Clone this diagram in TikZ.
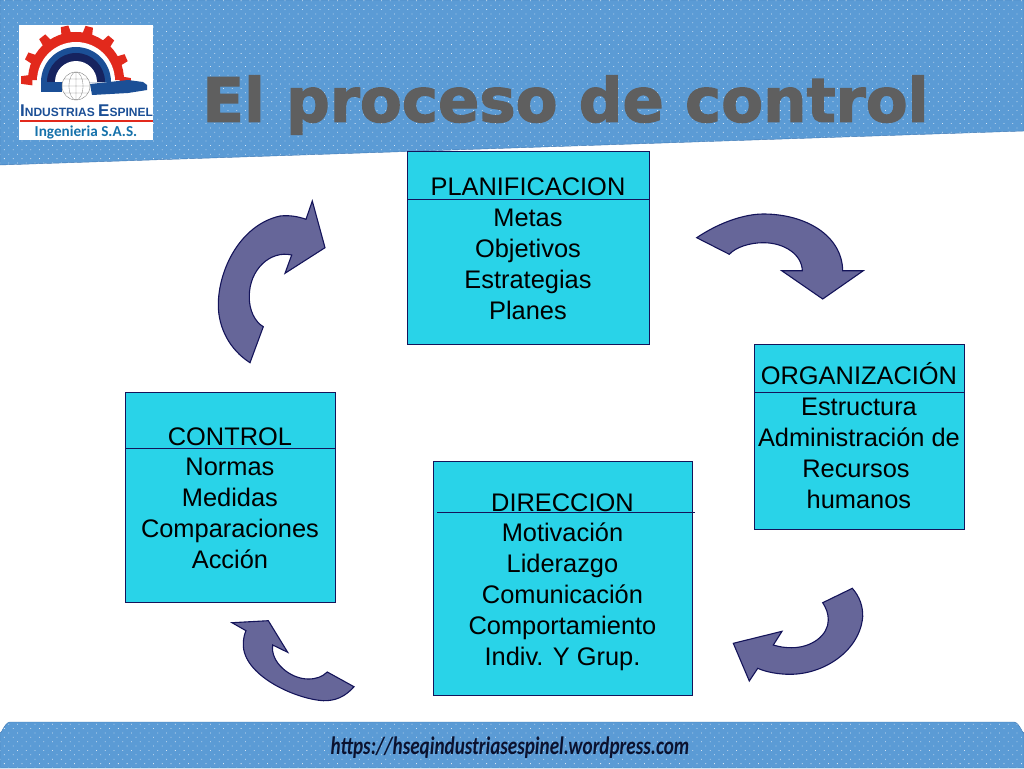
\documentclass[tikz,border=0pt]{standalone}
\usepackage{fontspec}
\setmainfont{Liberation Sans}
\newfontfamily\titlefont[BoldFeatures={FakeBold=2}]{DejaVu Sans}
\newfontfamily\urlfont[FakeStretch=0.76]{Carlito}
\newfontfamily\subfont{Carlito}
\usetikzlibrary{calc,patterns.meta}
\definecolor{bandblue}{HTML}{5B9BD5}
\definecolor{bandedge}{HTML}{3F78B4}
\definecolor{boxcyan}{HTML}{29D3E8}
\definecolor{navyline}{HTML}{14145A}
\definecolor{turnfill}{HTML}{666699}
\definecolor{titlegray}{HTML}{5F5F5F}
\definecolor{logored}{HTML}{E2291C}
\definecolor{logoblue}{HTML}{1B4F96}
\definecolor{logodark}{HTML}{16235F}
\tikzset{
  band/.style={draw=bandedge, fill=bandblue, postaction={pattern={Dots[distance=6.2pt,radius=.55pt,angle=45]}, pattern color=white!75!bandblue}},
  box/.style={draw=navyline, fill=boxcyan, anchor=north west, align=center, inner sep=0pt, font=\fontsize{25.4}{30.9}\selectfont},
  rule/.style={draw=navyline, line width=.9pt},
  turn/.style={draw=navyline, fill=turnfill, line width=1.1pt, line join=miter}
}
\begin{document}
\begin{tikzpicture}[x=1pt,y=-1pt]
  \useasboundingbox (0,0) rectangle (1024,768);
  \fill[white] (0,0) rectangle (1024,768);

  % bands
  \path[band] (0,0) -- (1024,0) -- (1024,131) -- (0,165) -- cycle;
  \path[band] (0,768) -- (0,732) to[out=-90,in=180] (10,722) -- (1014,722) to[out=0,in=-90] (1024,732) -- (1024,768) -- cycle;
  \node[text=titlegray, font=\titlefont\bfseries\fontsize{61}{61}\selectfont] (title) at (565.5,105) {El proceso de control};
  \node[text=logodark!50!black, font=\urlfont\bfseries\itshape\fontsize{25.2}{30}\selectfont] (url) at (510,748) {https://hseqindustriasespinel.wordpress.com};

  % logo
  \fill[white] (19,25) rectangle (153,140);
  \foreach \a in {0,26,...,182}
    \fill[logored, shift={(76,80)}] (\a-7:-44) -- (\a-4:-55) -- (\a+4:-55) -- (\a+7:-44) -- cycle;
  \fill[logored] (28,80) arc[start angle=180,end angle=360,radius=48] -- cycle;
  \fill[white] (37,81) arc[start angle=180,end angle=360,radius=39] -- cycle;
  \fill[logoblue] (41,82) arc[start angle=180,end angle=360,radius=35] -- cycle;
  \fill[logodark] (47,82) arc[start angle=180,end angle=360,radius=29] -- cycle;
  \fill[white] (55,82) arc[start angle=180,end angle=360,radius=21] -- cycle;
  \fill[logoblue] (41,82) rectangle (62,92);
  \fill[logoblue] (90,84) -- (128,80) -- (143,82) -- (147,85) -- (147,90) -- (128,93) -- (92,95) -- cycle;
  \filldraw[draw=gray, fill=white, line width=.4pt] (76,86) circle[radius=14];
  \draw[gray, line width=.3pt] (62,86) -- (90,86) (76,72) -- (76,100) (76,86) ellipse[x radius=7,y radius=14] (64,79) -- (88,79) (64,93) -- (88,93);
  \node[text=logoblue, inner sep=0pt, font=\bfseries\fontsize{12}{12}\selectfont] (logoname) at (86.5,111) {{\fontsize{17}{17}\selectfont I}NDUSTRIAS {\fontsize{17}{17}\selectfont E}SPINEL};
  \fill[logored] (20,120) rectangle (153,122);
  \node[text=logoblue!80!cyan, inner sep=0pt, font=\subfont\bfseries\fontsize{15.2}{15}\selectfont] (logosub) at (86,132.5) {Ingenieria S.A.S.};

  % boxes
  \node[box, minimum width=241.5pt, minimum height=192.5pt] (plan) at (407,151) {\rule{0pt}{20pt}PLANIFICACION\\ Metas\\ Objetivos\\ Estrategias\\ Planes};
  \node[box, minimum width=209.5pt, minimum height=184.5pt] (org) at (754,344) {ORGANIZACIÓN\\ Estructura\\ Administración de\\ Recursos\hspace*{6pt}\mbox{}\\ humanos\rule[-2pt]{0pt}{1pt}};
  \node[box, minimum width=209.5pt, minimum height=209.5pt] (ctrl) at (125,392) {\rule{0pt}{20pt}CONTROL\\ Normas\\ Medidas\\ Comparaciones\\ Acción};
  \node[box, minimum width=258.5pt, minimum height=233.5pt] (dir) at (433,461) {\rule{0pt}{26pt}DIRECCION\\ Motivación\\ Liderazgo\\ Comunicación\\ Comportamiento\\ Indiv. Y Grup.};

  \draw[rule] ($(plan.north west)+(0,48)$) -- ($(plan.north east)+(0,48)$);
  \draw[rule] ($(org.north west)+(0,48)$) -- ($(org.north east)+(0,48)$);
  \draw[rule] ($(ctrl.north west)+(0,56)$) -- ($(ctrl.north east)+(0,56)$);
  \draw[rule] ($(dir.north west)+(4,51)$) -- ($(dir.north east)+(3,51)$);

  % curved arrows
  \path[turn] (250,362.7) .. controls (230,350) and (218.3,328) .. (218.3,305) .. controls (218.3,270) and (240,225) .. (280,216) .. controls (290,215) and (298,216.5) .. (306,219.3)
    -- (312.3,201) -- (325,247.7) -- (285,273.3) -- (291.7,255) .. controls (270,250) and (249,270) .. (249.3,296.7) .. controls (249,310) and (255,322) .. (263.3,326.7) -- cycle;
  \path[turn] (696.7,237.7) .. controls (720,222) and (745,214) .. (763.3,214) .. controls (805,214) and (842,235) .. (842.7,270.7)
    -- (863.3,270.7) -- (822.7,299) -- (781.7,270.7) -- (802.3,270.7) .. controls (802,255) and (785,242.7) .. (763.3,242.7) .. controls (750,242.7) and (736,247) .. (729.3,254.3) -- cycle;
  \path[turn] (852.3,588.3) .. controls (860,597) and (863,607) .. (862.7,616.7) .. controls (860,650) and (825,674.3) .. (790,674.3) .. controls (778,674.3) and (766,672) .. (757.7,668.3)
    -- (749.3,681) -- (733.3,643.3) -- (782,631.3) -- (773.3,645) .. controls (780,647) and (785,647.7) .. (791.7,647.7) .. controls (812,647.7) and (828.3,635) .. (828.3,620) .. controls (828.3,613) and (826,608) .. (822.7,602.7) -- cycle;
  \path[turn] (354,686.7) .. controls (345,697) and (335,701) .. (323.3,700.7) .. controls (295,699) and (242,675) .. (243.3,643.3) .. controls (243.5,638) and (244.5,634) .. (246,630.7)
    -- (232,622.7) -- (268.3,620.7) -- (287.7,652.3) -- (272.7,645) .. controls (270,662) and (290,679) .. (308.3,679) .. controls (316,679) and (322,677) .. (327.3,672) -- cycle;
\end{tikzpicture}
\end{document}
